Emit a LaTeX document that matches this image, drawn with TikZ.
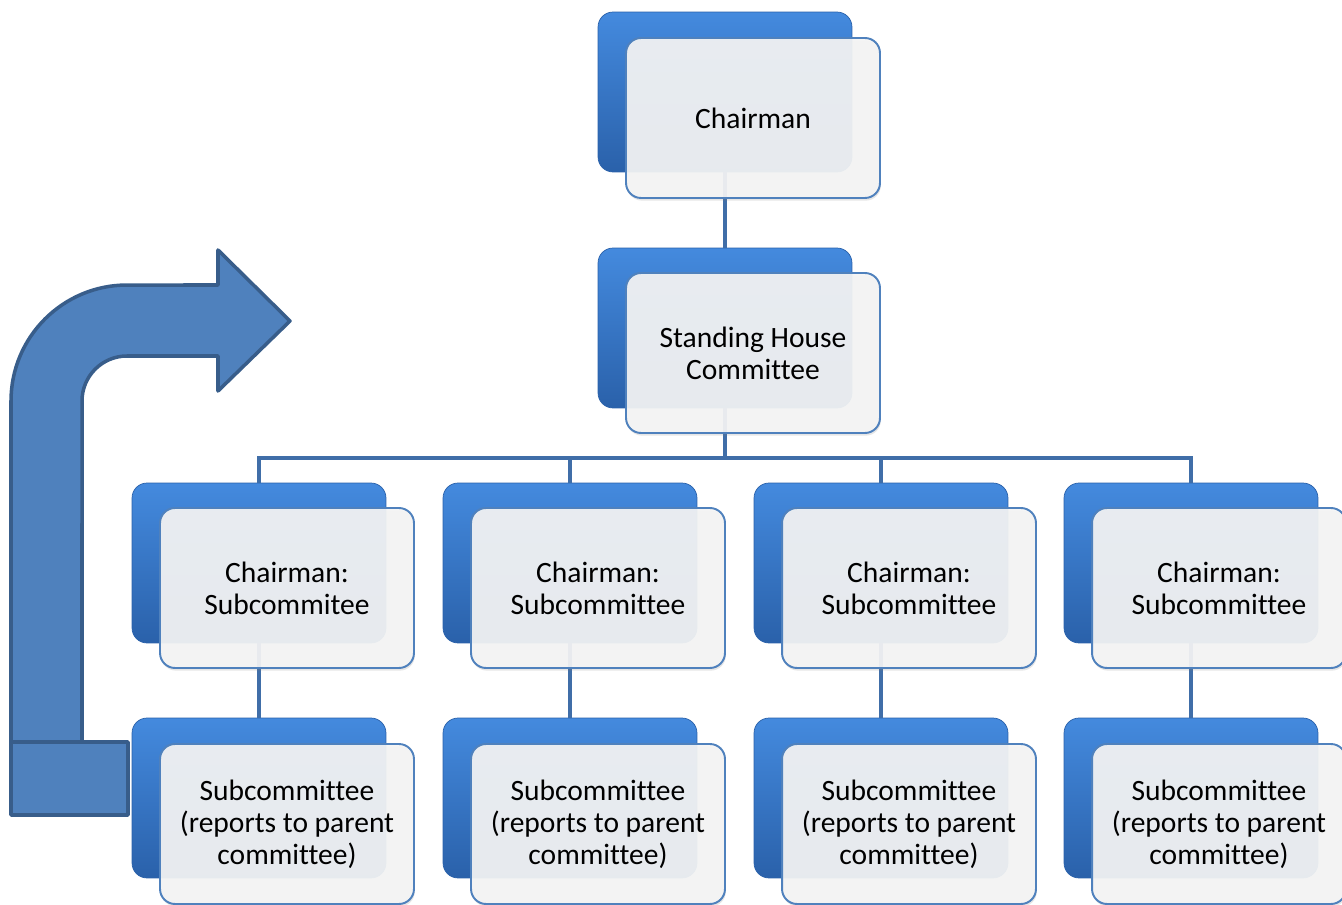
\documentclass[tikz,border=0pt]{standalone}
\usepackage{fontspec}
\setmainfont{Carlito}[Ligatures=NoCommon]
\usetikzlibrary{shadows}
\definecolor{boxtop}{RGB}{68,138,222}
\definecolor{boxbot}{RGB}{42,97,170}
\definecolor{boxedge}{RGB}{79,129,189}
\definecolor{linkblue}{RGB}{64,110,168}
\definecolor{arrowfill}{RGB}{79,129,189}
\definecolor{arrowedge}{RGB}{56,93,138}
\definecolor{paper}{RGB}{244,244,244}

\begin{document}
\begin{tikzpicture}[x=0.02cm, y=-0.02cm,
			every node/.style={font=\fontsize{16.8}{18.2}\selectfont},
			back/.style={shade, top color=boxtop, bottom color=boxbot, draw=boxbot, rounded corners=0.3cm, minimum width=5.08cm, minimum height=3.2cm, inner sep=0pt},
			card/.style={draw=boxedge, line width=1.1pt, fill=paper, fill opacity=0.93, text opacity=1, rounded corners=0.3cm, minimum width=5.08cm, minimum height=3.2cm, align=center, drop shadow={opacity=0.2, shadow xshift=0.5pt, shadow yshift=-1.5pt}},
			link/.style={draw=linkblue, line width=1.8pt},
			bent/.style={fill=arrowfill, draw=arrowedge, line width=2pt, line join=round},
			]
			\useasboundingbox (0,0) rectangle (1342,905);
			
			\node[back] (chairb) at (725,92) {};
			\node[back] (houseb) at (725,328) {};
			
			\node[back] (sub1b) at (259,563) {};
			\node[back] (sub2b) at (570,563) {};
			\node[back] (sub3b) at (881,563) {};
			\node[back] (sub4b) at (1191,563) {};
			
			\node[back] (rep1b) at (259,798) {};
			\node[back] (rep2b) at (570,798) {};
			\node[back] (rep3b) at (881,798) {};
			\node[back] (rep4b) at (1191,798) {};
			
			\coordinate (bus) at (725,458);
			
			\draw[link] (chairb) -- (houseb);
			\draw[link] (houseb) -- (bus) -| (sub1b);
			\draw[link] (houseb) -- (bus) -| (sub2b);
			\draw[link] (houseb) -- (bus) -| (sub3b);
			\draw[link] (houseb) -- (bus) -| (sub4b);
			
			\draw[link] (sub1b) -- (rep1b);
			\draw[link] (sub2b) -- (rep2b);
			\draw[link] (sub3b) -- (rep3b);
			\draw[link] (sub4b) -- (rep4b);
			
			\node[card] (chair) at (753,118) {Chairman};
			\node[card] (house) at (753,353) {Standing House\\Committee};
			
			\node[card] (sub1) at (287,588) {Chairman:\\Subcommitee};
			\node[card] (sub2) at (598,588) {Chairman:\\Subcommittee};
			\node[card] (sub3) at (909,588) {Chairman:\\Subcommittee};
			\node[card] (sub4) at (1219,588) {Chairman:\\Subcommittee};
			
			\node[card] (rep1) at (287,824) {Subcommittee\\(reports to parent\\committee)};
			\node[card] (rep2) at (598,824) {Subcommittee\\(reports to parent\\committee)};
			\node[card] (rep3) at (909,824) {Subcommittee\\(reports to parent\\committee)};
			\node[card] (rep4) at (1219,824) {Subcommittee\\(reports to parent\\committee)};
			
			% bent arrow on the left
			\draw[bent] (11,742) -- (11,401) arc[start angle=180, end angle=90, radius=2.32cm] -- (218,285) -- (218,250) -- (290,321) -- (218,391) -- (218,356) -- (127,356) arc[start angle=90, end angle=180, radius=0.9cm] -- (82,742) -- cycle;
			\draw[bent] (11,742) rectangle (128,815);
			
		\end{tikzpicture}
\end{document}
